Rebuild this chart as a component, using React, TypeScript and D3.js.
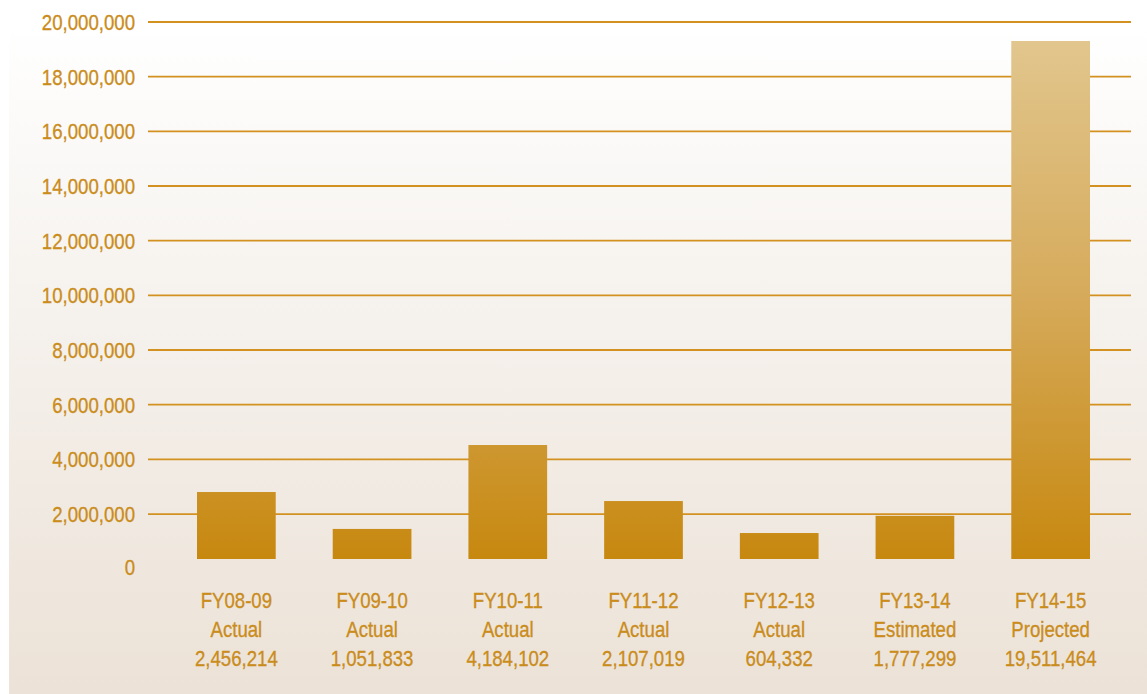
import React from "react";
import * as d3 from "d3";

const categories = ["FY08-09", "FY09-10", "FY10-11", "FY11-12", "FY12-13", "FY13-14", "FY14-15"];
const statusLabels = ["Actual", "Actual", "Actual", "Actual", "Actual", "Estimated", "Projected"];
const amountLabels = ["2,456,214", "1,051,833", "4,184,102", "2,107,019", "604,332", "1,777,299", "19,511,464"];
// bar heights as drawn in the picture
const barValues = [2450000, 1100000, 4170000, 2120000, 950000, 1580000, 18950000];
const yTicks = [0, 2000000, 4000000, 6000000, 8000000, 10000000, 12000000, 14000000, 16000000, 18000000, 20000000];

const W = 1147;
const H = 694;
const FONT = "'Liberation Sans', Arial, sans-serif";
const TEXT = "#CA8C1B";
const SX = 0.81;

function NText({ x, y, anchor, children }: { x: number; y: number; anchor: string; children: React.ReactNode }) {
  return (
    <text
      transform={`translate(${x},${y}) scale(${SX},1)`}
      dy="0.35em"
      textAnchor={anchor}
      fontFamily={FONT}
      fontSize={23}
      fill={TEXT}
      stroke={TEXT}
      strokeWidth={0.35}
    >
      {children}
    </text>
  );
}

export default function App() {
  const y = d3.scaleLinear().domain([0, 20000000]).range([568.7, 22]);
  const barBase = 559;
  const yBar = y.copy().range([barBase, barBase - (y(0) - y(20000000))]);
  const x = d3.scaleBand<string>().domain(categories).range([168.5, 1118.5]).paddingInner(0.42).paddingOuter(0.21);
  const fmt = d3.format(",");

  return (
    <div style={{ position: "fixed", left: 0, top: 0 }}>
      <svg width={W} height={H} style={{ display: "block" }}>
        <defs>
          <linearGradient id="bg" gradientUnits="userSpaceOnUse" x1="0" y1="25" x2="0" y2={H}>
            <stop offset="0" stopColor="#FFFFFF" />
            <stop offset="0.45" stopColor="#F5F1EC" />
            <stop offset="1" stopColor="#ECE2D7" />
          </linearGradient>
          <linearGradient id="bar" gradientUnits="userSpaceOnUse" x1="0" y1="22" x2="0" y2={barBase}>
            <stop offset="0" stopColor="#E2C891" />
            <stop offset="0.5" stopColor="#D6AB5C" />
            <stop offset="1" stopColor="#C7880F" />
          </linearGradient>
        </defs>
        <rect x={0} y={0} width={W} height={H} fill="#FFFFFF" />
        <rect x={9} y={0} width={W - 9} height={H} fill="url(#bg)" />
        {yTicks.filter((t) => t > 0).map((t) => (
          <line key={t} x1={148} x2={1131} y1={y(t)} y2={y(t)} stroke="#D39220" strokeWidth={1.8} />
        ))}
        {yTicks.map((t) => (
          <NText key={"l" + t} x={135} y={y(t) - (t === 0 ? 2 : 0)} anchor="end">
            {fmt(t)}
          </NText>
        ))}
        {categories.map((c, i) => (
          <rect key={c} x={x(c)} y={yBar(barValues[i])} width={x.bandwidth()} height={barBase - yBar(barValues[i])} fill="url(#bar)" />
        ))}
        {categories.map((c, i) => {
          const cx = (x(c) as number) + x.bandwidth() / 2;
          return (
            <g key={"c" + c}>
              <NText x={cx} y={600} anchor="middle">{c}</NText>
              <NText x={cx} y={629} anchor="middle">{statusLabels[i]}</NText>
              <NText x={cx} y={658} anchor="middle">{amountLabels[i]}</NText>
            </g>
          );
        })}
      </svg>
    </div>
  );
}
